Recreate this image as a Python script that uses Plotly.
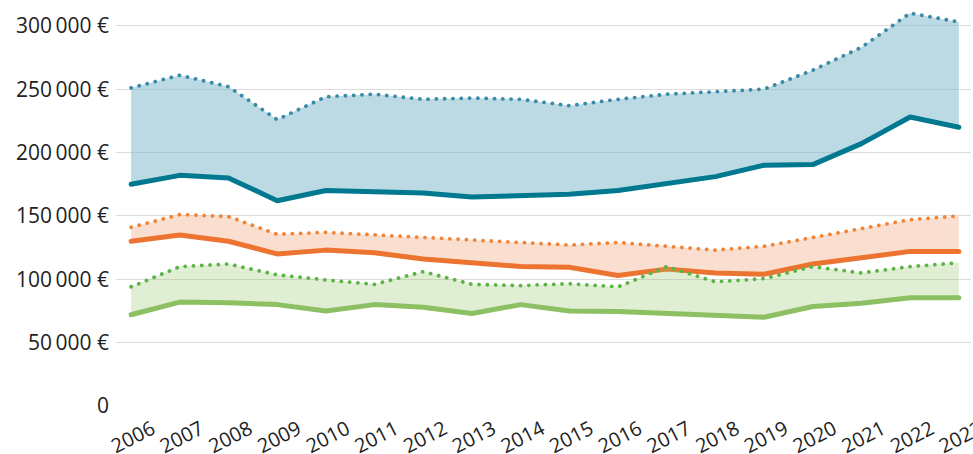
import plotly.graph_objects as go

years = list(range(2006, 2024))
year_labels = [str(y) for y in years]

blue_low = [175000, 182000, 180000, 162000, 170000, 169000, 168000, 165000, 166000,
            167000, 170000, 176000, 181000, 190000, 190500, 207000, 228000, 220000]
blue_high = [251000, 261000, 252000, 226000, 244000, 246000, 242000, 243000, 242000,
             237000, 242000, 246000, 248000, 250000, 265000, 283000, 310000, 303000]
orange_low = [130000, 135000, 130000, 120000, 123000, 121000, 116000, 113000, 110000,
              109500, 103000, 108000, 105000, 104000, 112000, 117000, 122000, 122000]
orange_high = [141000, 151000, 149500, 135500, 137000, 135000, 133000, 131000, 129000,
               127000, 129000, 126000, 123000, 126000, 133000, 140000, 147000, 150000]
green_low = [72000, 82000, 81500, 80000, 75000, 80000, 78000, 73000, 80000,
             75000, 74500, 73000, 72000, 70000, 78500, 81000, 85500, 85500]
green_high = [94000, 110000, 112000, 103500, 99500, 96000, 106000, 96000, 95000,
              96500, 94000, 110000, 98000, 100500, 110000, 105000, 110000, 113000]

y_tickvals = [0, 50000, 100000, 150000, 200000, 250000, 300000]
y_ticktext = ["0", "50\u2009000 €", "100\u2009000 €", "150\u2009000 €",
              "200\u2009000 €", "250\u2009000 €", "300\u2009000 €"]

groups = [
    (blue_low, blue_high, "#00788f", "#3b8aa8", "rgba(120,182,199,0.5)"),
    (orange_low, orange_high, "#ec7430", "#f08537", "rgba(240,150,100,0.3)"),
    (green_low, green_high, "#8cc063", "#5db446", "rgba(141,192,96,0.27)"),
]

fig = go.Figure()
for low, high, c_low, c_high, fillc in groups:
    fig.add_trace(go.Scatter(
        x=years, y=low, mode="lines",
        line=dict(color=c_low, width=5), hoverinfo="skip", showlegend=False))
    fig.add_trace(go.Scatter(
        x=years, y=high, mode="lines", fill="tonexty", fillcolor=fillc,
        line=dict(color=c_high, width=3.8, dash="0.1px,8.2px"),
        hoverinfo="skip", showlegend=False))

fig.update_layout(
    width=973, height=454,
    margin=dict(l=116, r=2, t=3, b=48),
    paper_bgcolor="white", plot_bgcolor="white",
    font=dict(family="Open Sans", size=21, color="#222222"),
    showlegend=False,
    xaxis=dict(
        range=[2006 - 0.31, 2023 + 0.25],
        tickmode="array", tickvals=years, ticktext=year_labels,
        tickangle=-27, showgrid=False, zeroline=False, showline=False,
        ticks="", ticklabelshift=21, ticklabelstandoff=7,
        tickfont=dict(size=20),
        automargin=False, ticklabeloverflow="allow",
    ),
    yaxis=dict(
        range=[0, 318000],
        tickmode="array", tickvals=y_tickvals, ticktext=y_ticktext,
        showgrid=True, gridcolor="#dcdcdc", gridwidth=1.3,
        zeroline=False, showline=False, ticks="", ticklabelstandoff=6,
        automargin=False, ticklabeloverflow="allow",
    ),
)

post = """
document.body.style.margin = '0';
document.body.style.padding = '0';
document.body.style.overflow = 'hidden';
var s = document.createElement('style');
s.textContent = '.js-line{stroke-linecap:round !important; stroke-linejoin:round !important;}';
document.head.appendChild(s);
"""
fig.write_html("out.html", post_script=post, config={"displayModeBar": False})
